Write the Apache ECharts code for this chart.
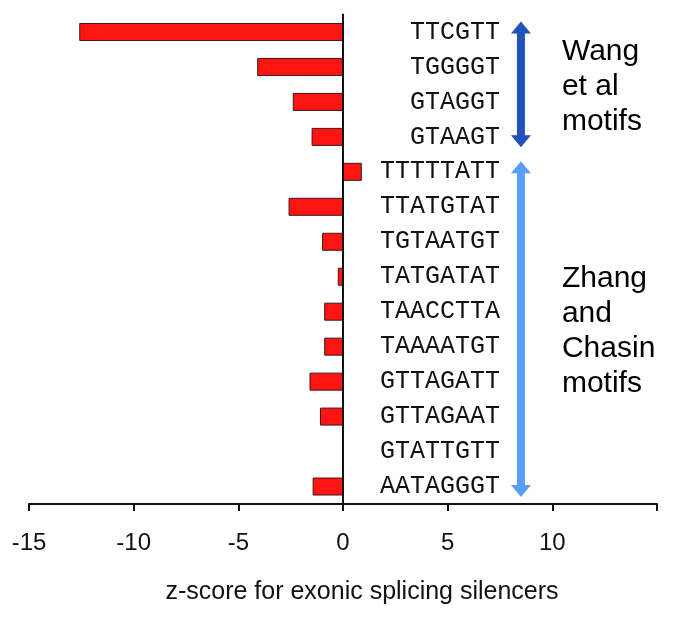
<!DOCTYPE html>
<html>
<head>
<meta charset="utf-8">
<script src="https://cdn.jsdelivr.net/npm/echarts@6/dist/echarts.min.js"></script>
<style>
  html, body { margin: 0; padding: 0; background: #fff; }
  #chart { width: 685px; height: 623px; }
</style>
</head>
<body>
<div id="chart"></div>
<script>
// ---- data ----
const motifs = ['TTCGTT','TGGGGT','GTAGGT','GTAAGT','TTTTTATT','TTATGTAT','TGTAATGT','TATGATAT','TAACCTTA','TAAAATGT','GTTAGATT','GTTAGAAT','GTATTGTT','AATAGGGT'];
const zScores = [-12.6, -4.1, -2.4, -1.5, 0.9, -2.6, -1.0, -0.25, -0.9, -0.9, -1.6, -1.1, 0, -1.45];
const xTicks = [-15, -10, -5, 0, 5, 10];
const groupLabels = ['Wang\net al\nmotifs', 'Zhang\nand\nChasin\nmotifs'];
const groupFirst = [0, 4];
const groupLast = [3, 13];
const groupColors = ['#2152B9', '#579FF6'];
const arrowX = 8.5;
const axisTitle = 'z-score for exonic splicing silencers';

const chart = echarts.init(document.getElementById('chart'), null, { renderer: 'canvas' });

const groupData = groupLabels.map((g, i) => [arrowX, groupFirst[i], groupLast[i], i]);

function renderArrow(params, api) {
  const x = api.value(0);
  const i0 = api.value(1);
  const i1 = api.value(2);
  const gi = api.value(3);
  const p0 = api.coord([x, i0]);
  const p1 = api.coord([x, i1]);
  const band = api.size([0, 1])[1];
  const ext = band * 0.3;
  const top = Math.min(p0[1], p1[1]) - ext;
  const bot = Math.max(p0[1], p1[1]) + ext;
  const cx = p0[0];
  const headW = 20, headL = 12, shaftW = 8;
  const color = groupColors[gi];
  return {
    type: 'group',
    children: [
      { type: 'rect', shape: { x: cx - shaftW / 2, y: top + headL - 1, width: shaftW, height: bot - top - 2 * headL + 2 }, style: { fill: color } },
      { type: 'polygon', shape: { points: [[cx, top], [cx - headW / 2, top + headL], [cx + headW / 2, top + headL]] }, style: { fill: color } },
      { type: 'polygon', shape: { points: [[cx, bot], [cx - headW / 2, bot - headL], [cx + headW / 2, bot - headL]] }, style: { fill: color } },
      { type: 'text', x: cx + 41, y: (top + bot) / 2 + 2,
        style: { text: groupLabels[gi], fill: '#000', fontSize: 30, fontFamily: 'Liberation Sans, Arial, sans-serif', lineHeight: 35, align: 'left', verticalAlign: 'middle' } }
    ]
  };
}

chart.setOption({
  animation: false,
  backgroundColor: '#fff',
  grid: { left: 29, right: 28, top: 14.5, height: 489.5, containLabel: false },
  xAxis: {
    type: 'value', min: -15, max: 15, interval: 5,
    axisLine: { show: true, onZero: false, lineStyle: { color: '#111', width: 2 } },
    axisTick: { show: true, length: 7, lineStyle: { color: '#111', width: 2 } },
    splitLine: { show: false },
    axisLabel: {
      margin: 27, fontSize: 24, color: '#111', fontFamily: 'Liberation Sans, Arial, sans-serif',
      formatter: v => (xTicks.indexOf(v) >= 0 ? String(v) : '')
    },
    name: axisTitle, nameLocation: 'middle', nameGap: 76,
    nameTextStyle: { fontSize: 25, color: '#111', fontFamily: 'Liberation Sans, Arial, sans-serif', padding: [0, 0, 0, 38] }
  },
  yAxis: [
    {
      type: 'category', data: motifs, inverse: true, z: 5,
      axisLine: { show: true, onZero: true, lineStyle: { color: '#111', width: 2 } },
      axisTick: { show: false },
      splitLine: { show: false },
      axisLabel: { show: false }
    },
    {
      type: 'category', data: motifs, inverse: true, position: 'right',
      axisLine: { show: false, onZero: false },
      axisTick: { show: false },
      splitLine: { show: false },
      axisLabel: { inside: true, margin: 157, fontSize: 25, color: '#111', fontFamily: 'Liberation Mono, Courier New, monospace' }
    }
  ],
  series: [
    {
      type: 'bar', data: zScores, barWidth: 18,
      itemStyle: { color: '#FF1414', borderColor: '#3a1a1a', borderWidth: 1 }
    },
    {
      type: 'custom', data: groupData, renderItem: renderArrow, clip: false, z: 3,
      encode: { x: 0, y: 1 }
    }
  ]
});
</script>
</body>
</html>
